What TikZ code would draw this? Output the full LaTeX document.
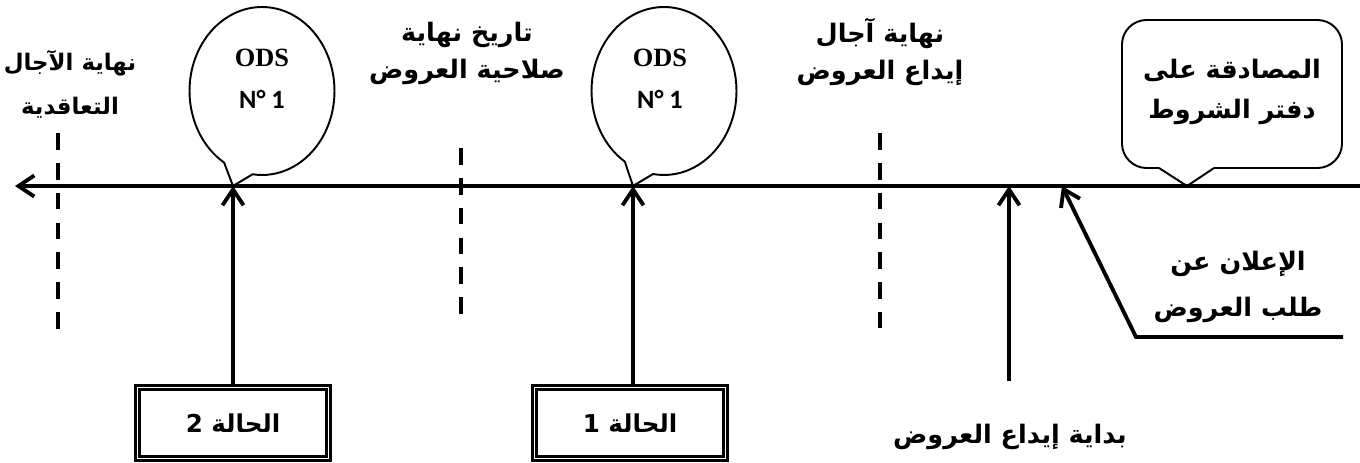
\documentclass[tikz,border=0pt]{standalone}
\usepackage{fontspec}
\usetikzlibrary{arrows.meta,shapes.callouts}
\TeXXeTstate=1
\newfontfamily\arabicfont[Script=Arabic]{DejaVu Sans}
\newfontfamily\odsfont{Liberation Serif}
\newfontfamily\numfont{Carlito}
\newcommand{\artxt}[1]{\beginR #1\endR}

\begin{document}
\begin{tikzpicture}[
	x=0.02cm, y=-0.02cm,
	line/.style={draw, line width=2.2pt, -{Straight Barb[length=9pt,width=12pt]}},
	tick/.style={draw, line width=2.2pt, dash pattern=on 9.5pt off 7.5pt},
	bubble/.style={
		ellipse callout, draw=black, line width=1.1pt,
		minimum width=2.9cm, minimum height=3.36cm, inner sep=0pt,
		callout pointer arc=24
	},
	odstext/.style={align=center, font=\bfseries\fontsize{15}{24}\selectfont},
	caption/.style={align=center, font=\arabicfont\bfseries\fontsize{14.5}{21}\selectfont},
	casebox/.style={
		rectangle, draw=black, double, line width=1.2pt, double distance=1.1pt,
		minimum width=3.82cm, minimum height=1.42cm,
		font=\arabicfont\bfseries\fontsize{14}{16}\selectfont
	},
	]
	\useasboundingbox (0,0) rectangle (1360,463);

	% points on the time line
	\coordinate (tr) at (1360,186);
	\coordinate (tl) at (15,186);
	\coordinate (tcah) at (1187,186);
	\coordinate (tann) at (1062,186);
	\coordinate (tdep) at (1009,186);
	\coordinate (tods1) at (633,186);
	\coordinate (tods2) at (233,186);

	\path [line] (tr) -- (tl);

	% dashed marks
	\foreach \x/\a/\b in {58/133/335, 461/148/325, 880/133/328}
		\path [tick] (\x,\a) -- (\x,\b);

	% labels above the line
	\node [caption, font=\arabicfont\bfseries\fontsize{13}{20}\selectfont] (fin) at (70,84)
		{\artxt{نهاية الآجال}\\[5pt]\artxt{التعاقدية}};
	\node [caption] (valid) at (467,53) {\artxt{تاريخ نهاية}\\\artxt{صلاحية العروض}};
	\node [caption] (depot) at (880,52) {\artxt{نهاية آجال}\\\artxt{إيداع العروض}};

	% ODS bubbles
	\node [bubble, callout absolute pointer=(tods2)] (ods2) at (262,91) {};
	\node [odstext] (ods2t) at (262,79) {{\odsfont ODS}\\{\numfont N° 1}};
	\node [bubble, callout absolute pointer=(tods1)] (ods1) at (664,91) {};
	\node [odstext] (ods1t) at (660,79) {{\odsfont ODS}\\{\numfont N° 1}};

	% cahier des charges callout
	\draw [line width=1.1pt, rounded corners=14pt]
		(1214,168) -- (1342,168) -- (1342,20) -- (1122,20) -- (1122,168) -- (1159,168);
	\draw [line width=1.1pt] (1159,168) -- (tcah) -- (1214,168);
	\node [caption] (cah) at (1232,92) {\artxt{المصادقة على}\\[2pt]\artxt{دفتر الشروط}};

	% announcement
	\coordinate (annA) at (1343,337);
	\coordinate (annB) at (1136,337);
	\path [line] (annA) -- (annB) -- (tann);
	\node [caption] (ann) at (1238,287) {\artxt{الإعلان عن}\\[5pt]\artxt{طلب العروض}};

	% start of deposit
	\coordinate (depA) at (1009,381);
	\path [line] (depA) -- (tdep);
	\node [caption] (debut) at (1010,437) {\artxt{بداية إيداع العروض}};

	% cases
	\node [casebox] (case2) at (233,423) {\artxt{الحالة 2}};
	\node [casebox] (case1) at (630,423) {\artxt{الحالة 1}};
	\path [line] (case2) -- (tods2);
	\path [line] (case1.north -| tods1) -- (tods1);
\end{tikzpicture}
\end{document}
